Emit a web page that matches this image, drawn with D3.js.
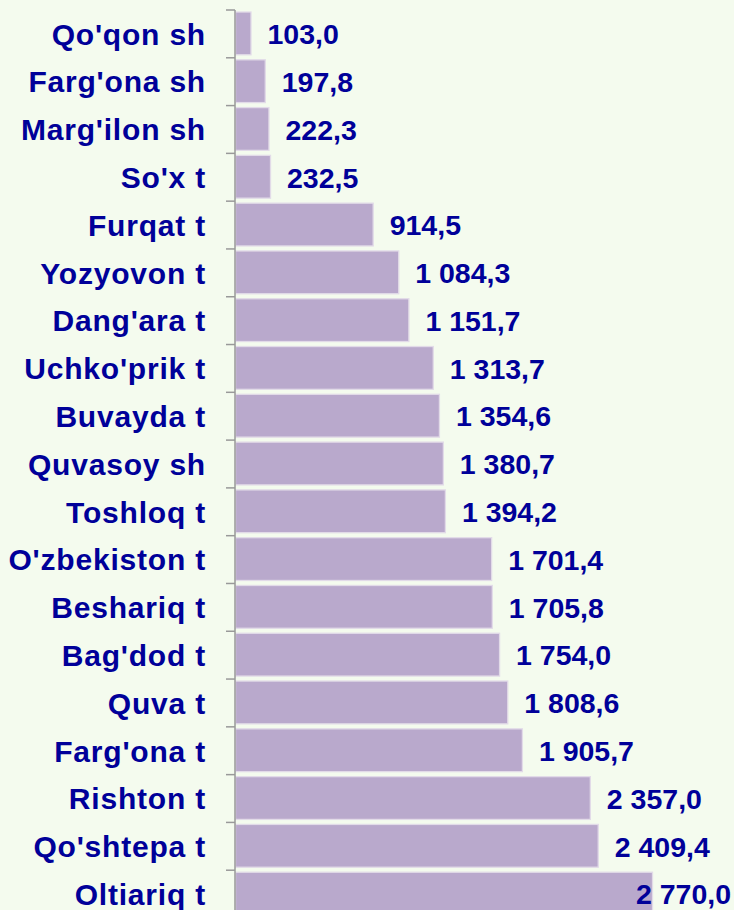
<!DOCTYPE html>
<html>
<head>
<meta charset="utf-8">
<script src="https://cdn.jsdelivr.net/npm/d3@7"></script>
<style>
  body { margin: 0; background: #f4fbee; }
  svg { display: block; }
</style>
</head>
<body>
<div id="chart"></div>
<script>
var categories = ["Qo'qon sh", "Farg'ona sh", "Marg'ilon sh", "So'x t", "Furqat t", "Yozyovon t",
  "Dang'ara t", "Uchko'prik t", "Buvayda t", "Quvasoy sh", "Toshloq t", "O'zbekiston t",
  "Beshariq t", "Bag'dod t", "Quva t", "Farg'ona t", "Rishton t", "Qo'shtepa t", "Oltiariq t"];
var values = [103.0, 197.8, 222.3, 232.5, 914.5, 1084.3, 1151.7, 1313.7, 1354.6, 1380.7,
  1394.2, 1701.4, 1705.8, 1754.0, 1808.6, 1905.7, 2357.0, 2409.4, 2770.0];

var width = 734, height = 910;
var margin = {top: 10, left: 235};

var data = categories.map(function(c, i) { return {name: c, value: values[i]}; });

var svg = d3.select('#chart')
  .append('svg')
    .attr('width', width)
    .attr('height', height)
    .style('font-family', 'Arial, "Liberation Sans", sans-serif');

svg.append('rect')
  .attr('width', width)
  .attr('height', height)
  .attr('fill', '#f4fbee');

// scales
var x = d3.scaleLinear()
  .domain([0, 2770])
  .range([margin.left, 652]);

// band runs a bit past the bottom edge, last bar is cut off
var y = d3.scaleBand()
  .domain(categories)
  .range([margin.top, 918]);

var step = y.step();

// bars (with light edge)
svg.selectAll('rect.bar')
  .data(data)
  .enter().append('rect')
    .attr('class', 'bar')
    .attr('x', x(0) + 0.5)
    .attr('y', function(d) { return y(d.name) + 2; })
    .attr('width', function(d) { return x(d.value) - x(0); })
    .attr('height', step - 5)
    .attr('fill', '#b9a9cc')
    .attr('stroke', '#e2dbe8')
    .attr('stroke-width', 1.3);

// axis line and ticks at band boundaries
var bounds = categories.map(function(c) { return y(c); });

svg.append('line')
  .attr('x1', margin.left).attr('x2', margin.left)
  .attr('y1', margin.top).attr('y2', height)
  .attr('stroke', '#999999')
  .attr('stroke-width', 1.5);

svg.selectAll('line.tick')
  .data(bounds)
  .enter().append('line')
    .attr('class', 'tick')
    .attr('x1', 226).attr('x2', margin.left)
    .attr('y1', function(d) { return d; })
    .attr('y2', function(d) { return d; })
    .attr('stroke', '#999999')
    .attr('stroke-width', 1.5);

// category labels
svg.selectAll('text.cat')
  .data(data)
  .enter().append('text')
    .attr('class', 'cat')
    .attr('x', 206)
    .attr('y', function(d) { return y(d.name) + step / 2; })
    .attr('dy', '0.36em')
    .attr('text-anchor', 'end')
    .attr('fill', '#000099')
    .style('font-size', '30px')
    .style('letter-spacing', '0.8px')
    .style('font-weight', 'bold')
    .text(function(d) { return d.name; });

// value labels
var fmt = function(v) {
  var s = v.toFixed(1).split('.');
  var int = s[0].replace(/\B(?=(\d{3})+(?!\d))/g, ' ');
  return int + ',' + s[1];
};

svg.selectAll('text.val')
  .data(data)
  .enter().append('text')
    .attr('class', 'val')
    .attr('y', function(d) { return y(d.name) + step / 2; })
    .attr('dy', '0.36em')
    .attr('fill', '#000099')
    .style('font-size', '28.5px')
    .style('font-weight', 'bold')
    .text(function(d) { return fmt(d.value); })
    .attr('x', function(d) {
      var w = this.getComputedTextLength();
      return Math.min(x(d.value) + 17, 731 - w);
    });
</script>
</body>
</html>
